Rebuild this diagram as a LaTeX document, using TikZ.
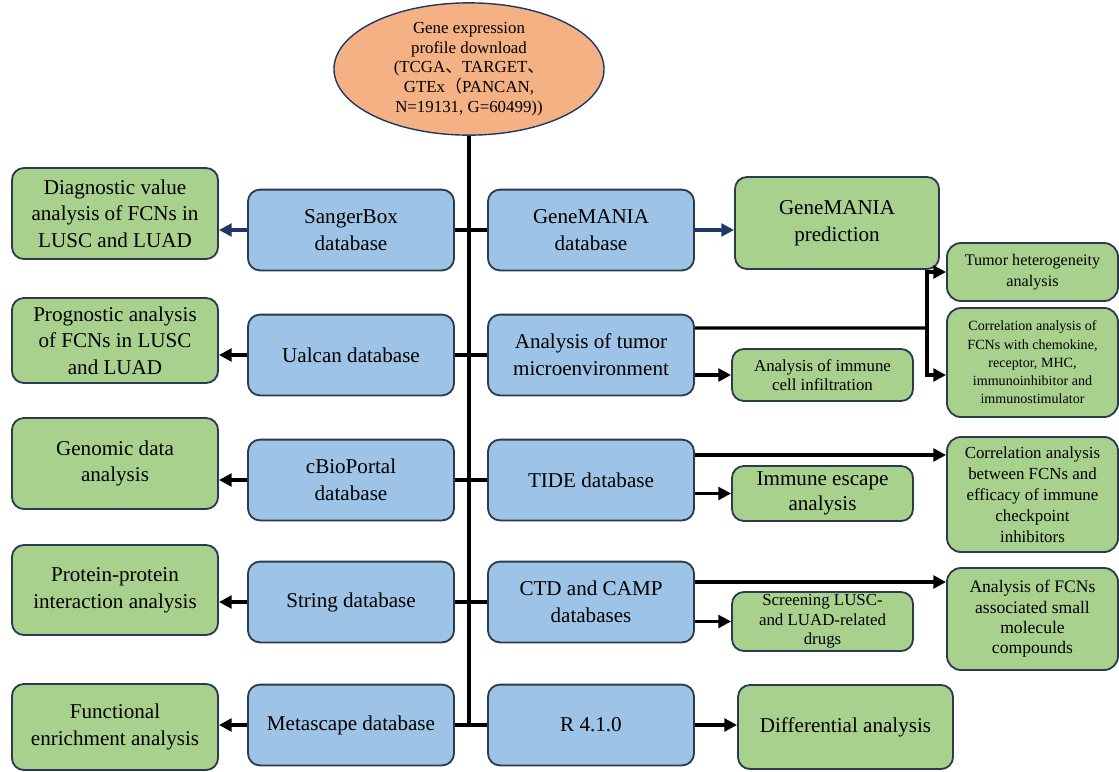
\documentclass[tikz,border=0pt]{standalone}
\usepackage{fontspec}
\setmainfont{Liberation Serif}
\newfontfamily\cjk{Noto Sans CJK SC}
\usetikzlibrary{shapes.geometric,arrows.meta}
\definecolor{dbblue}{HTML}{9DC3E6}
\definecolor{resgreen}{HTML}{A9D18E}
\definecolor{srcorange}{HTML}{F4B183}
\definecolor{boxline}{HTML}{2B3A4E}
\definecolor{navy}{HTML}{1F3864}
\tikzset{
    basebox/.style={rectangle, rounded corners=0.3cm, draw=boxline, line width=1.3pt,
    	align=center, inner sep=2pt},
    dbbox/.style={basebox, fill=dbblue, minimum width=5.15cm, minimum height=2.02cm,
    	font=\fontsize{15}{19}\selectfont},
    resbox/.style={basebox, fill=resgreen, font=\fontsize{15}{19}\selectfont},
    midbox/.style={basebox, fill=resgreen, minimum width=4.525cm,
    	font=\fontsize{12}{14}\selectfont},
    farbox/.style={basebox, fill=resgreen, rounded corners=0.35cm, minimum width=4.275cm,
    	font=\fontsize{12}{15}\selectfont}
}
\tikzset{
    every edge/.append style={line width=2.2pt}
}
\tikzset{
	>={Triangle[length=9pt,width=9pt]}
}

\begin{document}
\begin{tikzpicture}[x=0.025cm, y=-0.025cm, line width=2.2pt]
	\useasboundingbox (0,0) rectangle (1119,771);

	\node (ell) [ellipse, draw=navy, line width=1pt, fill=srcorange, minimum width=6.75cm,
		minimum height=2.95cm, inner sep=0pt, align=center,
		font=\fontsize{12}{14}\selectfont] at (469,69)
		{Gene expression\\profile download\\(TCGA{\cjk 、}TARGET{\cjk 、}\\GTEx{\cjk （}PANCAN,\\N=19131, G=60499))};

	\node (sb) [dbbox] at (351,230) {SangerBox\\database};
	\node (ua) [dbbox] at (351,355) {Ualcan database};
	\node (cb) [dbbox] at (351,480) {cBioPortal\\database};
	\node (st) [dbbox] at (351,602) {String database};
	\node (ms) [dbbox] at (351,725) {Metascape database};

	\node (gm) [dbbox] at (591,230) {GeneMANIA\\database};
	\node (tm) [dbbox] at (591,355) {Analysis of tumor\\microenvironment};
	\node (td) [dbbox] at (591,480) {TIDE database};
	\node (ct) [dbbox] at (591,602) {CTD and CAMP\\databases};
	\node (rr) [dbbox] at (591,725) {R 4.1.0};

	\node (diag) [resbox, minimum width=5.15cm, minimum height=2.275cm] at (115,213.5)
		{Diagnostic value\\analysis of FCNs in\\LUSC and LUAD};
	\node (prog) [resbox, minimum width=5.15cm, minimum height=2.125cm] at (115,340.5)
		{Prognostic analysis\\of FCNs in LUSC\\and LUAD};
	\node (geno) [resbox, minimum width=5.15cm, minimum height=2.275cm] at (115,463.5)
		{Genomic data\\analysis};
	\node (prot) [resbox, minimum width=5.15cm, minimum height=2.25cm] at (115,590)
		{Protein-protein\\interaction analysis};
	\node (func) [resbox, minimum width=5.15cm, minimum height=2.15cm] at (115,727)
		{Functional\\enrichment analysis};

	\node (pred) [resbox, minimum width=5.1cm, minimum height=2.3cm] at (837,223)
		{GeneMANIA\\prediction};
	\node (df) [resbox, minimum width=5.375cm, minimum height=2.1cm] at (845.5,727)
		{Differential analysis};

	\node (ce) [midbox, minimum height=1.3cm] at (822.5,375) {Analysis of immune\\cell infiltration};
	\node (es) [midbox, minimum height=1.375cm, font=\fontsize{15}{18}\selectfont] at (822.5,493.5)
		{Immune escape\\analysis};
	\node (sc) [midbox, minimum height=1.475cm, inner ysep=0pt] at (822.5,621.5)
		{Screening LUSC-\\and LUAD-related\\drugs};

	\node (th) [farbox, minimum height=1.45cm, font=\fontsize{11.5}{15}\selectfont] at (1032.5,272)
		{Tumor heterogeneity\\analysis};
	\node (ch) [farbox, minimum height=2.725cm, font=\fontsize{10}{13}\selectfont] at (1032.5,362.5)
		{Correlation analysis of\\FCNs with chemokine,\\receptor, MHC,\\immunoinhibitor and\\immunostimulator};
	\node (ef) [farbox, minimum height=2.875cm] at (1032.5,494.5)
		{Correlation analysis\\between FCNs and\\efficacy of immune\\checkpoint\\inhibitors};
	\node (sm) [farbox, minimum height=2.55cm, font=\fontsize{12.5}{14.5}\selectfont] at (1032.5,619)
		{Analysis of FCNs\\associated small\\molecule\\compounds};

	\coordinate (tmb) at (927,328);

	\draw (ell.south) edge (ell.south |- ms.east);
	\draw (sb.east) edge (gm.west); \draw (ua.east) edge (tm.west); \draw (cb.east) edge (td.west);
	\draw (st.east) edge (ct.west); \draw (ms.east) edge (rr.west);

	\draw (sb.west) edge [->, navy] (sb.west -| diag.east); \draw (gm.east) edge [->, navy] (gm.east -| pred.west);
	\draw (ua.west) edge [->] (ua.west -| prog.east); \draw (cb.west) edge [->] (cb.west -| geno.east);
	\draw (st.west) edge [->] (st.west -| prot.east); \draw (ms.west) edge [->] (ms.west -| func.east);
	\draw (rr.east) edge [->] (rr.east -| df.west);

	\draw ([yshift=0.675cm]tm.east) edge (tmb);
	\draw [->] (tmb) |- (th.west);
	\draw [->] (tmb) |- (ch.west |- ce.west);
	\draw (tm.east |- ce.west) edge [->] (ce.west);
	\draw ([yshift=0.625cm]td.east) edge [->] ([yshift=0.625cm]td.east -| ef.west);
	\draw (td.east |- es.west) edge [->] (es.west);
	\draw ([yshift=0.5cm]ct.east) edge [->] ([yshift=0.5cm]ct.east -| sm.west);
	\draw (ct.east |- sc.west) edge [->] (sc.west);
\end{tikzpicture}
\end{document}
